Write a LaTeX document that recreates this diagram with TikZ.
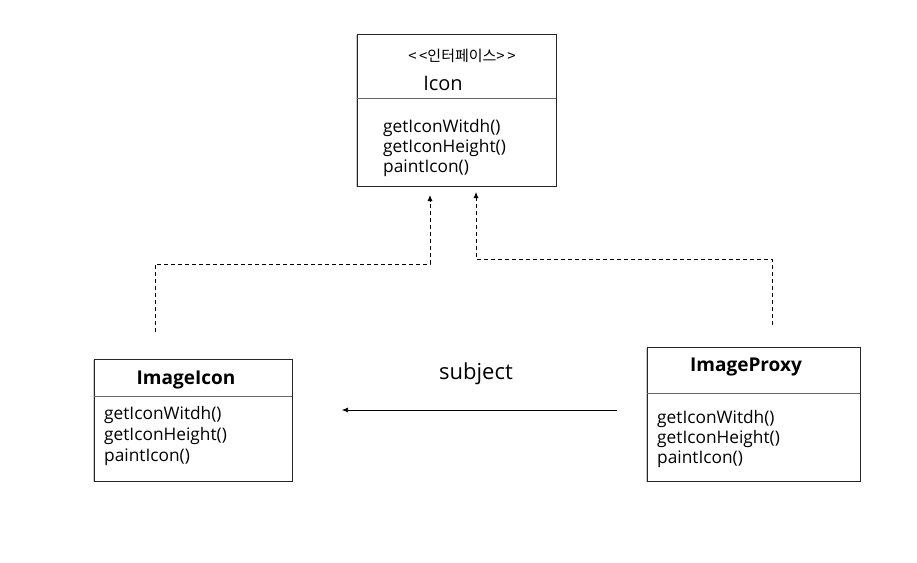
\documentclass[tikz,border=0pt]{standalone}
\usepackage{fontspec}
\setmainfont{Open Sans}
\newfontfamily\krfont{Noto Sans CJK KR}
\usetikzlibrary{arrows.meta,shadows}
\begin{document}
\begin{tikzpicture}[x=1pt,y=-1pt,
  cls/.style={draw=black!85,line width=0.9pt,fill=white,
    drop shadow={shadow xshift=-1.2pt,shadow yshift=-1.2pt,opacity=0.35,fill=black!60}},
  sep/.style={draw=black!60,line width=0.6pt},
  meth/.style={anchor=west,font=\fontsize{17.3}{20}\selectfont,inner sep=0pt},
  ttl/.style={font=\fontsize{19}{22}\selectfont\bfseries,inner sep=0pt},
  dep/.style={dashed,dash pattern=on 4pt off 3pt,line width=0.8pt,-{Latex[length=6pt,width=5pt]}},
  assoc/.style={line width=0.6pt,-{Latex[length=6pt,width=5pt]}}]
\useasboundingbox (0,0) rectangle (917,562);
% Icon
\node[cls,minimum width=199pt,minimum height=152pt,inner sep=0pt] (icon) at (456.5,110) {};
\draw[sep] (357,98) -- (556,98);
\node[inner sep=0pt,font=\krfont\fontsize{15}{17}\selectfont] (stereo) at (462,56) {<\,<인터페이스>\,>};
\node[inner sep=0pt,font=\fontsize{20}{22}\selectfont] (iconname) at (443,83) {Icon};
\node[meth] (i1) at (383,128) {getIconWitdh()};
\node[meth] (i2) at (383,148) {getIconHeight()};
\node[meth] (i3) at (383,168) {paintIcon()};
% ImageIcon
\node[cls,minimum width=198pt,minimum height=122pt,inner sep=0pt] (imgicon) at (193,420) {};
\draw[sep] (94,396) -- (292,396);
\node[ttl] (imgiconname) at (186,380) {ImageIcon};
\node[meth] (a1) at (104,415) {getIconWitdh()};
\node[meth] (a2) at (104,436) {getIconHeight()};
\node[meth] (a3) at (104,457) {paintIcon()};
% ImageProxy
\node[cls,minimum width=213pt,minimum height=134pt,inner sep=0pt] (proxy) at (753.5,414) {};
\draw[sep] (647,393) -- (860,393);
\node[ttl] (proxyname) at (746,367) {ImageProxy};
\node[meth] (p1) at (657,419) {getIconWitdh()};
\node[meth] (p2) at (657,439) {getIconHeight()};
\node[meth] (p3) at (657,459) {paintIcon()};
% subject association
\coordinate (sA) at (617,410);
\coordinate (sB) at (342,410);
\draw[assoc] (sA) -- (sB);
\node[inner sep=0pt,font=\fontsize{22}{24}\selectfont] (subj) at (476,374) {subject};
% dependencies
\coordinate (l0) at (155,332);
\coordinate (l1) at (155,264);
\coordinate (l2) at (430,264);
\coordinate (l3) at (430,195);
\draw[dep] (l0) -- (l1) -- (l2) -- (l3);
\coordinate (r0) at (772,325);
\coordinate (r1) at (772,259);
\coordinate (r2) at (476,259);
\coordinate (r3) at (476,192);
\draw[dep] (r0) -- (r1) -- (r2) -- (r3);
\end{tikzpicture}
\end{document}
